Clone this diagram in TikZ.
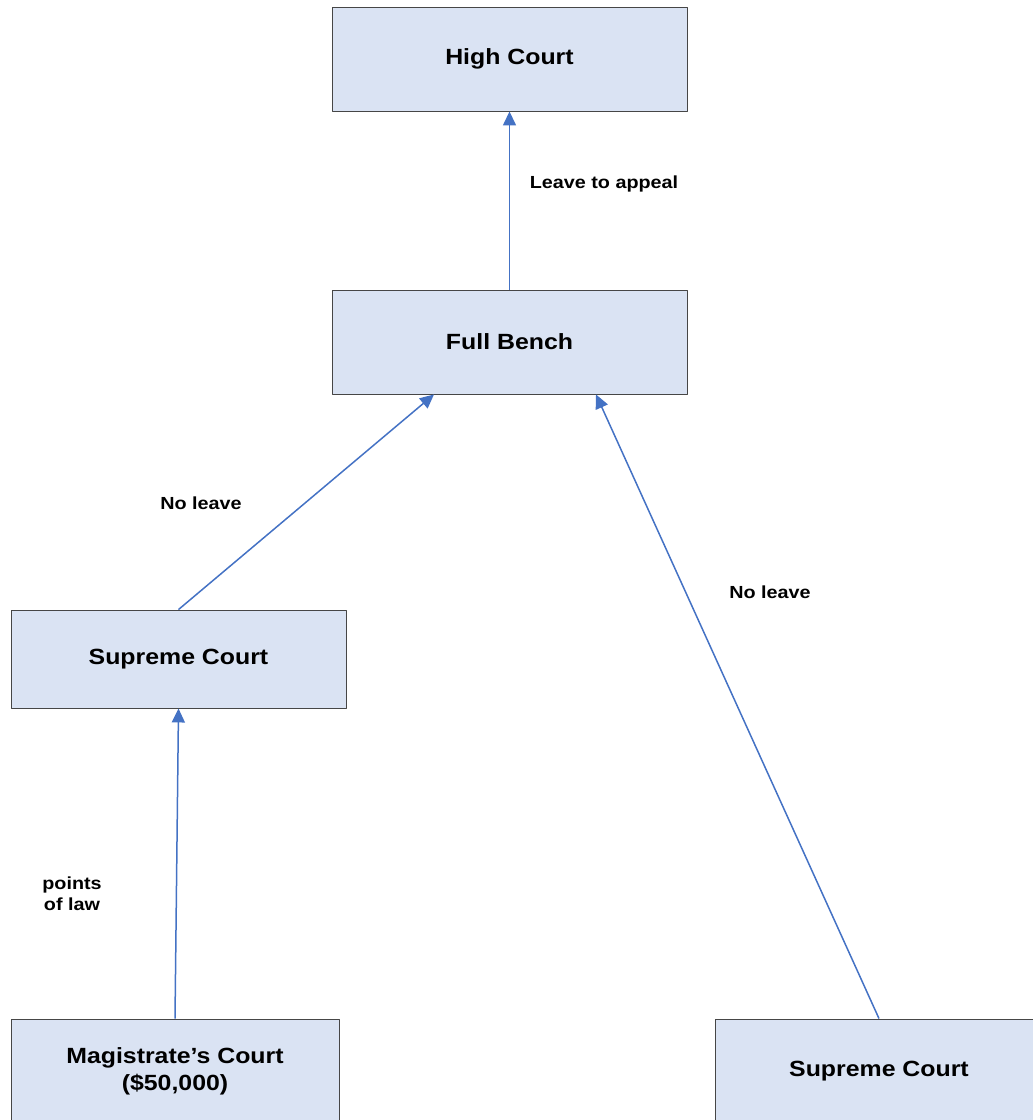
\documentclass[tikz,border=0pt]{standalone}
\usepackage{fontspec}
\setmainfont[FakeStretch=1.13]{Liberation Sans}
\usetikzlibrary{arrows.meta}
\definecolor{boxfill}{RGB}{218,227,243}
\definecolor{boxline}{RGB}{70,70,70}
\definecolor{linkblue}{RGB}{68,114,196}
\begin{document}
\begin{tikzpicture}[x=1pt,y=-1pt, line join=round,
		court/.style={draw=boxline, fill=boxfill, line width=0.9pt, inner sep=0pt, align=center, font=\fontsize{22}{27}\selectfont\bfseries},
		lbl/.style={align=center, font=\fontsize{17.5}{21}\selectfont\bfseries},
		link/.style={draw=linkblue, line width=1.5pt, -{Triangle[length=14pt,width=13pt]}}]
		\useasboundingbox (0,0) rectangle (1033,1120);
		\clip (0,0) rectangle (1033,1120);
		% courts
		\node[court, minimum width=355pt, minimum height=104pt] (hc) at (509.5,59) {High Court};
		\node[court, minimum width=355pt, minimum height=104pt] (fb) at (509.5,342) {Full Bench};
		\node[court, minimum width=335pt, minimum height=98pt] (sc) at (178.5,659) {Supreme Court};
		\node[court, minimum width=328pt, minimum height=104pt] (mc) at (175,1071) {Magistrate’s Court\\(\$50,000)};
		\node[court, minimum width=328pt, minimum height=104pt] (scr) at (879,1071) {Supreme Court};
		% appeals
		\draw[link] (fb.north) -- (hc.south);
		\draw[link] (sc.north) -- ([xshift=-75.5pt]fb.south);
		\draw[link] (scr.north) -- ([xshift=86.5pt]fb.south);
		\draw[link] (mc.north) -- (sc.south);
		\node[lbl] (l1) at (604,184) {Leave to appeal};
		\node[lbl] (l2) at (201,503) {No leave};
		\node[lbl] (l3) at (770,592) {No leave};
		\node[lbl] (l4) at (72,894) {points\\of law};
\end{tikzpicture}
\end{document}
